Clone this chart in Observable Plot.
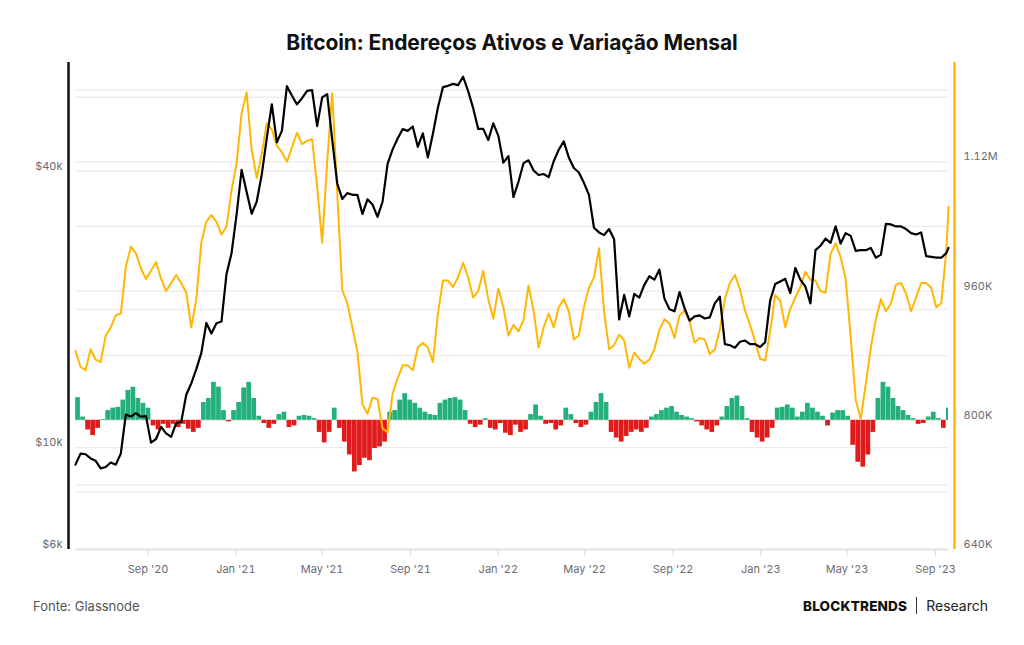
<!DOCTYPE html>
<html>
<head>
<meta charset="utf-8">
<script src="https://cdn.jsdelivr.net/npm/d3@7"></script>
<script src="https://cdn.jsdelivr.net/npm/@observablehq/plot@0.6"></script>
<style>
  body { margin: 0; background: #fff; font-family: Inter, "Noto Sans", sans-serif; }
  #wrap { position: relative; width: 1024px; height: 645px; overflow: hidden; background: #fff; }
  #title { position: absolute; top: 30px; left: 0; width: 1024px; text-align: center; font-weight: 700; font-size: 21px; color: #111; letter-spacing: -0.1px; }
  #chart { position: absolute; top: 55px; left: 0; width: 1024px; height: 530px; }
  #chart svg { position: absolute; top: 0; left: 0; }
  #source { position: absolute; left: 33px; top: 598px; font-size: 13px; color: #555; }
  #brand { position: absolute; left: 803px; top: 597px; font-size: 14px; color: #222; display: flex; align-items: center; white-space: nowrap; }
  #brand b { font-weight: 800; font-size: 13.5px; letter-spacing: 0.2px; color: #111; }
  #brand .sep { display: inline-block; width: 1px; height: 17px; background: #333; margin: 0 9px 0 9px; }
</style>
</head>
<body>
<div id="wrap">
  <div id="title">Bitcoin: Endereços Ativos e Variação Mensal</div>
  <div id="chart"></div>
  <div id="source">Fonte: Glassnode</div>
  <div id="brand"><b>BLOCKTRENDS</b><span class="sep"></span><span>Research</span></div>
</div>
<script>
// ---- data (weekly, starting 2020-05-23; last point 2023-09-19) ----
const firstWeek = "2020-05-23";
const lastDate = "2023-09-19";

// BTC price, USD
const priceValues = [9180,9700,9670,9470,9360,9010,9070,9280,9180,9700,
11800,11680,11880,11670,11710,10250,10440,11090,10740,10550,
11300,11370,13030,13800,14820,16070,18680,17720,18650,18810,
23870,26490,32130,40250,36020,32290,34320,39270,47170,55890,
46190,48920,61200,58330,55860,57600,59770,60000,50100,57830,
58800,46760,37540,34770,35800,35500,35480,32240,34700,33820,
31780,34290,41460,44580,47090,49340,48900,49990,45160,48300,
42800,48200,54970,60900,61300,61900,61500,64150,59700,54800,
49400,49400,46700,50800,47700,41700,43100,35100,37900,41600,
42200,40100,39200,39400,38800,42000,44500,46400,42800,40600,
39700,37700,35500,30100,29400,29000,29900,28400,19000,21500,
19300,21600,21200,22600,23600,23200,24400,21100,20000,19800,
21800,20100,18900,19300,19400,19100,19200,20600,21300,16800,
16700,16500,17000,17100,16800,16800,16550,16950,20900,22700,
23000,23300,21700,24600,23200,22400,20600,26900,27500,28500,
27900,30300,27800,29300,28900,26800,26900,26900,27200,25900,
26300,30700,30600,30300,30300,29900,29300,29100,29400,26100,
26000,25900,25900,26500,27200];

// Active addresses, thousands
const addrValues = [886,866,862,888,875,872,905,915,930,932,
990,1015,1007,988,975,985,996,975,960,970,
980,970,958,915,950,1020,1046,1054,1046,1030,
1040,1085,1118,1180,1206,1135,1100,1130,1168,1160,
1140,1132,1120,1138,1156,1142,1146,1148,1090,1020,
1120,1205,1081,961,945,915,885,820,808,828,
826,790,785,833,852,868,868,862,890,896,
890,872,932,973,973,965,977,995,977,952,
960,985,950,926,963,940,905,918,910,924,
967,936,890,915,932,915,940,950,935,900,
905,940,964,977,1013,935,888,893,906,899,
865,884,876,870,875,888,912,925,920,902,
930,936,922,896,902,900,882,888,912,950,
970,980,962,936,918,898,876,874,910,955,
948,915,938,952,965,984,974,973,960,958,
1006,1019,1002,975,903,825,802,845,890,925,
950,935,945,968,970,957,935,952,970,970,
964,940,945,1010,1064];

// Monthly variation of active addresses, thousands (drawn from the 800K baseline)
const changeValues = [28,4,-12,-19,-10,1,12,15,16,25,
37,41,27,21,15,-7,-12,-5,-10,-5,
-9,-5,-11,-15,-10,22,27,47,41,12,
-2,12,22,40,47,27,5,-4,-10,-5,
7,10,-9,-7,5,6,5,2,-15,-28,
-15,15,-10,-27,-43,-64,-56,-47,-50,-35,
-33,-27,10,12,25,33,25,21,15,10,
7,6,21,25,27,28,25,12,-5,-9,
-6,2,-10,-12,-4,-16,-19,-6,-15,-12,
7,19,5,-5,-4,-12,-7,15,7,-4,
-9,-6,10,22,33,22,-15,-22,-27,-20,
-15,-12,-15,-10,4,7,12,15,17,10,
6,4,2,-2,-7,-12,-15,-7,4,17,
27,30,17,2,-15,-22,-27,-22,-10,15,
16,19,15,4,10,21,15,10,5,-7,
9,12,12,5,-31,-52,-58,-43,-15,27,
47,41,27,17,12,6,2,-5,-4,4,
10,2,-10,15];

const xTickDates = ["2020-09-01","2021-01-01","2021-05-01","2021-09-01","2022-01-01","2022-05-01","2022-09-01","2023-01-01","2023-05-01","2023-09-01"];
const priceGridTicks = [8000, 10000, 20000, 40000, 60000];
const priceLabelTicks = [6000, 10000, 40000];
const addrGridTicks = [720000, 800000, 880000, 960000, 1040000, 1120000, 1200000];
const addrLabelTicks = [640000, 800000, 960000, 1120000];
const baseline = 800000;

// ---- build tables ----
const start = new Date(firstWeek);
const end = new Date(lastDate);
const dates = changeValues.map((_, k) => d3.utcDay.offset(start, 7 * k)).concat([end]);
const price = priceValues.map((v, i) => ({date: dates[i], v}));
const addr = addrValues.map((v, i) => ({date: dates[i], v: v * 1000}));
const bars = changeValues.map((v, i) => ({
  x1: dates[i], x2: d3.utcDay.offset(dates[i], 7),
  y1: baseline, y2: baseline + v * 1000, pos: v >= 0
}));

const GREEN = "#23b07a", RED = "#e01b1b", ORANGE = "#ffb703", GRID = "#ebebeb", LABEL = "#6b6b73";
const common = {
  width: 1024, height: 530,
  marginTop: 7, marginBottom: 36, marginLeft: 75, marginRight: 76,
  style: {background: "transparent", fontFamily: "Inter, sans-serif", overflow: "visible"},
  x: {type: "utc", domain: [start, end], axis: null}
};
const priceY = {type: "log", domain: [6000, 68900], axis: null};
const addrY = {type: "linear", domain: [640000, 1243000], axis: null};

// layer 1: price grid
const layer1 = Plot.plot({
  ...common, y: priceY,
  marks: [Plot.ruleY(priceGridTicks, {stroke: GRID, strokeWidth: 1.3})]
});

// layer 2: addresses (grid, bars, line, right axis, x axis)
const layer2 = Plot.plot({
  ...common, y: addrY,
  marks: [
    Plot.ruleY(addrGridTicks, {stroke: GRID, strokeWidth: 1.3}),
    Plot.rect(bars, {x1: "x1", x2: "x2", y1: "y1", y2: "y2", fill: d => d.pos ? GREEN : RED, insetLeft: 0.15, insetRight: 0.15, clip: true}),
    Plot.line(addr, {x: "date", y: "v", stroke: ORANGE, strokeWidth: 2, curve: "linear"}),
    Plot.ruleY([640000], {stroke: "#e2e2e2", strokeWidth: 2}),
    Plot.axisX({ticks: xTickDates.map(d => new Date(d)), tickFormat: d3.utcFormat("%b '%y"), tickSize: 7, tickPadding: 9, stroke: "#dcdcdc", fill: LABEL, fontSize: 11, label: null}),
    Plot.axisY({anchor: "right", ticks: addrLabelTicks, tickFormat: d => d >= 1e6 ? (d / 1e6).toFixed(2) + "M" : (d / 1000) + "K", tickSize: 0, tickPadding: 15, dy: -5, fill: LABEL, fontSize: 11, label: null}),
    Plot.ruleX([end], {dx: 6, stroke: ORANGE, strokeWidth: 2.5})
  ]
});

// layer 3: price line and left axis
const layer3 = Plot.plot({
  ...common, y: priceY,
  marks: [
    Plot.line(price, {x: "date", y: "v", stroke: "#000", strokeWidth: 2.2}),
    Plot.axisY({anchor: "left", ticks: priceLabelTicks, tickFormat: d => "$" + (d / 1000) + "k", tickSize: 0, tickPadding: 13, dy: -5, fill: LABEL, fontSize: 11, label: null}),
    Plot.ruleX([start], {dx: -7, stroke: "#111", strokeWidth: 2.5})
  ]
});

const chart = document.getElementById("chart");
chart.append(layer1, layer2, layer3);
</script>
</body>
</html>
